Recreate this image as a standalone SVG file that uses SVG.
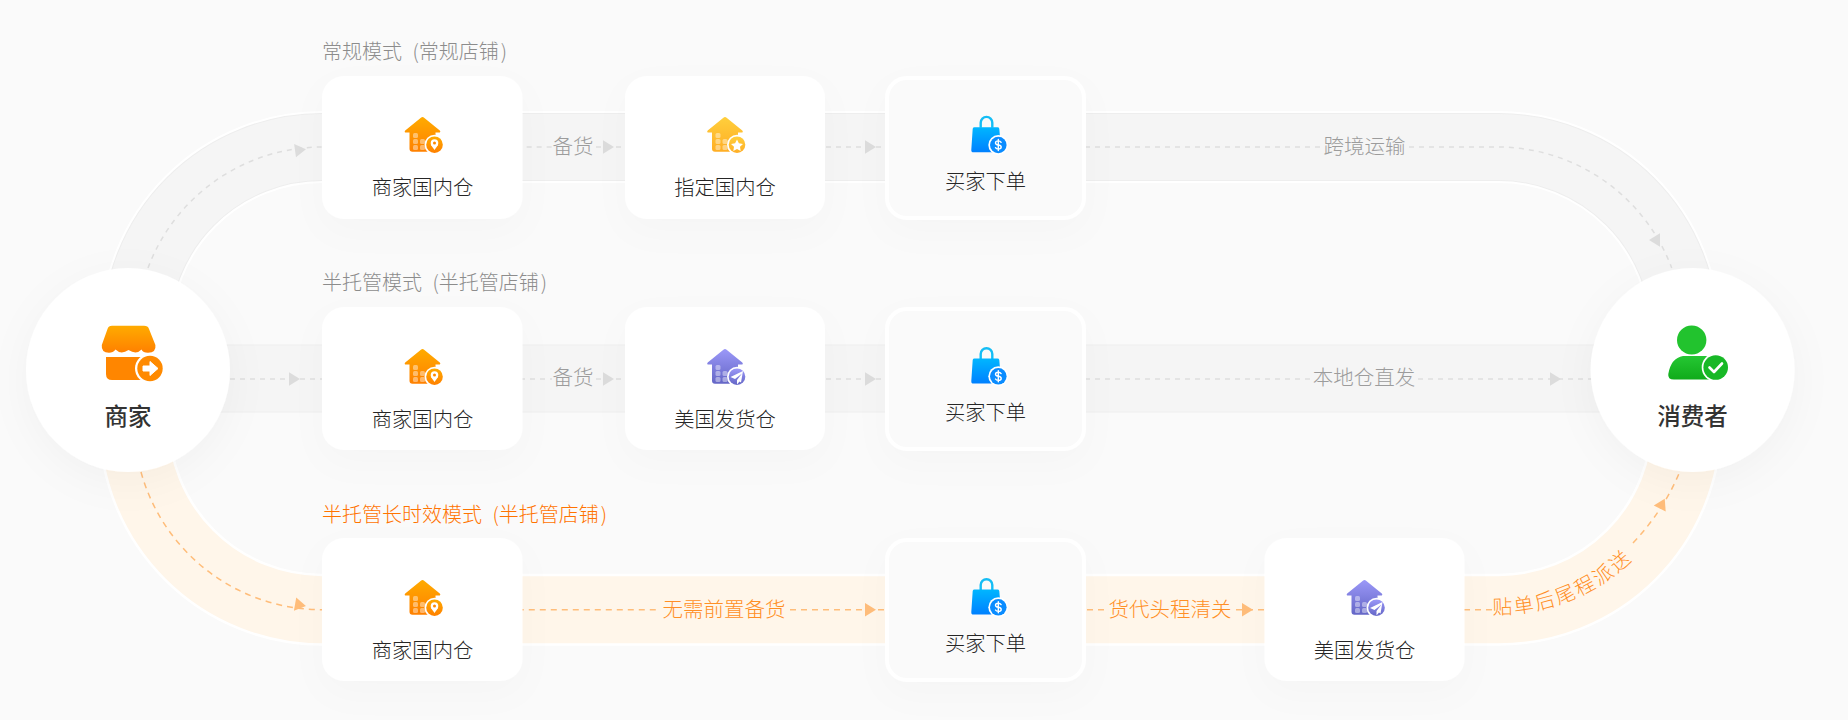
<svg xmlns="http://www.w3.org/2000/svg" width="1848" height="720" viewBox="0 0 1848 720">
<style>
text{font-family:"Noto Sans CJK SC","Noto Sans",sans-serif;font-weight:300;}
.lb{font-size:20.3px;fill:#262626;text-anchor:middle;}
.hd{font-size:20px;fill:#8c8c8c;word-spacing:6px;}
.ho{font-size:20px;fill:#ff7300;word-spacing:6px;}
.gt{font-size:20.5px;fill:#9c9c9c;text-anchor:middle;}
.ot{font-size:20.5px;fill:#ff8f26;text-anchor:middle;}
.big{font-size:23.5px;font-weight:500;fill:#333;text-anchor:middle;}
.b{fill:none;}
.gd{fill:none;stroke:#dedede;stroke-width:1.5;stroke-dasharray:5 5;}
.od{fill:none;stroke:#ffbd7a;stroke-width:1.5;stroke-dasharray:6 5;}
.card{fill:#fff;}
.cardc{fill:#fafafa;stroke:#fff;stroke-width:4;}
.win{fill:#fff;fill-opacity:.42;}
.wht{fill:#fff;}
.gtri{fill:#dcdcdc;}
.otri{fill:#ffbd7a;}
</style>
<defs>
<filter id="sh" x="-40%" y="-40%" width="180%" height="190%"><feDropShadow dx="0" dy="12" stdDeviation="18" flood-color="#000" flood-opacity=".02"/></filter>
<filter id="shc" x="-40%" y="-40%" width="180%" height="190%"><feDropShadow dx="0" dy="10" stdDeviation="20" flood-color="#000" flood-opacity=".035"/></filter>
<linearGradient id="gO" x1="0" y1="0" x2="0" y2="1"><stop offset="0" stop-color="#ffab00"/><stop offset="1" stop-color="#ff8000"/></linearGradient>
<linearGradient id="gY" x1="0" y1="0" x2="0" y2="1"><stop offset="0" stop-color="#ffcf3c"/><stop offset="1" stop-color="#ffae25"/></linearGradient>
<linearGradient id="gP" x1="0" y1="0" x2="0" y2="1"><stop offset="0" stop-color="#9b98f8"/><stop offset="1" stop-color="#6466c6"/></linearGradient>
<linearGradient id="gB" x1="0" y1="0" x2="0" y2="1"><stop offset="0" stop-color="#00b6ff"/><stop offset="1" stop-color="#0080ff"/></linearGradient>
<linearGradient id="gG" x1="0" y1="0" x2="0" y2="1"><stop offset="0" stop-color="#25c733"/><stop offset="1" stop-color="#10ab1a"/></linearGradient>
<path id="tri" d="M-5 -6.7 L6 0 L-5 6.7 Z"/>
<g id="house">
<path d="M-1.6 .7 Q0 -.5 1.6 .7 L17.3 13.4 Q18.8 15.4 16.2 15.4 H13 V31.8 Q13 34.8 10 34.8 H-10 Q-13 34.8 -13 31.8 V15.4 H-16.2 Q-18.8 15.4 -17.3 13.4 Z"/>
<rect class="win" x="-9.5" y="16" width="5" height="5" rx="1.5"/>
<rect class="win" x="-9.5" y="22" width="5" height="5" rx="1.5"/>
<rect class="win" x="-2.5" y="22" width="5" height="5" rx="1.5"/>
<rect class="win" x="-9.5" y="28" width="5" height="5" rx="1.5"/>
<rect class="win" x="-2.5" y="28" width="5" height="5" rx="1.5"/>
<circle class="wht" cx="12" cy="27.7" r="10"/>
<circle cx="12" cy="27.7" r="8.3"/>
</g>
<g id="bag">
<path d="M-4.8 11 V6 a5.8 5.8 0 0 1 11.6 0 V11" fill="none" stroke="#14bdf5" stroke-width="2.4"/>
<path d="M-11 10.6 H12 Q13.5 10.6 13.8 12 L15.5 32.5 Q15.7 35.6 12.5 35.6 H-12 Q-14.4 35.6 -14.2 33 L-12.8 12 Q-12.5 10.6 -11 10.6 Z" fill="url(#gB)"/>
<circle class="wht" cx="12.8" cy="28.3" r="10"/>
<circle cx="12.8" cy="28.3" r="8.3" fill="#0a8cff"/>
<path d="M15.6 25.6 Q14.8 24.2 12.8 24.2 Q10 24.2 10 26.3 Q10 28 12.8 28.3 Q15.7 28.7 15.7 30.4 Q15.7 32.4 12.8 32.4 Q10.8 32.4 10 31 M12.8 22.8 V33.8" fill="none" stroke="#fff" stroke-width="1.4" stroke-linecap="round"/>
</g>
</defs>
<rect width="1848" height="720" fill="#fafafa"/>
<g id="connectors">
<g id="bands">
<path class="b" d="M136 333 A186 186 0 0 1 322 147 H1498.6 A186 186 0 0 1 1684.6 333" stroke="#fff" stroke-width="72"/>
<path class="b" d="M136 333 A186 186 0 0 1 322 147 H1498.6 A186 186 0 0 1 1684.6 333" stroke="#eeeeee" stroke-width="68"/>
<path class="b" d="M136 333 A186 186 0 0 1 322 147 H1498.6 A186 186 0 0 1 1684.6 333" stroke="#f5f5f5" stroke-width="66"/>
<path class="b" d="M128 378.5 H1692" stroke="#eeeeee" stroke-width="68"/>
<path class="b" d="M128 378.5 H1692" stroke="#f5f5f5" stroke-width="66"/>
<path class="b" d="M134.3 422 A187.7 187.7 0 0 0 322 609.7 H1498.6 A187.7 187.7 0 0 0 1686.3 422" stroke="#fff" stroke-width="72"/>
<path class="b" d="M134.3 422 A187.7 187.7 0 0 0 322 609.7 H1498.6 A187.7 187.7 0 0 0 1686.3 422" stroke="#fff6ea" stroke-width="67"/>
</g>
<path class="gd" d="M148 268 A186 186 0 0 1 322 147 H552 M596 147 H885 M1085 147 H1320 M1409 147 H1498.6 A186 186 0 0 1 1671.7 268"/>
<path class="gd" d="M230 379 H552 M596 379 H885 M1085 379 H1310 M1418 379 H1592"/>
<path class="od" d="M141 472 A187.7 187.7 0 0 0 322 609.7 H658 M790 609.7 H1105 M1236 609.7 H1296"/>
<path class="od" d="M1464 609.7 H1493 M1633 543 Q1664 510 1679.6 472"/>
<use href="#tri" class="gtri" transform="translate(300 150) rotate(-8)"/>
<use href="#tri" class="gtri" transform="translate(608 147)"/>
<use href="#tri" class="gtri" transform="translate(870 147)"/>
<use href="#tri" class="gtri" transform="translate(1655 240) rotate(180)"/>
<use href="#tri" class="gtri" transform="translate(294 379)"/>
<use href="#tri" class="gtri" transform="translate(608 379)"/>
<use href="#tri" class="gtri" transform="translate(870 379)"/>
<use href="#tri" class="gtri" transform="translate(1555 379)"/>
<use href="#tri" class="otri" transform="translate(300 605) rotate(10)"/>
<use href="#tri" class="otri" transform="translate(870 609.7)"/>
<use href="#tri" class="otri" transform="translate(1247 609.7)"/>
<use href="#tri" class="otri" transform="translate(1662 504) rotate(-63)"/>
<text class="gt" x="573" y="154">备货</text>
<text class="gt" x="1364.5" y="154">跨境运输</text>
<text class="gt" x="573" y="385">备货</text>
<text class="gt" x="1364" y="385">本地仓直发</text>
<text class="ot" x="724" y="617">无需前置备货</text>
<text class="ot" x="1170" y="617">货代头程清关</text>
<path id="tp" d="M1492.6 613.9 A192 192 0 0 0 1664.9 518" fill="none"/>
<text class="ot" style="text-anchor:start;letter-spacing:2.2px;font-size:20px"><textPath href="#tp">贴单后尾程派送</textPath></text>
</g>
<g id="headings">
<text class="hd" x="322" y="59">常规模式 (常规店铺<tspan dx="2">)</tspan></text>
<text class="hd" x="322" y="290">半托管模式 (半托管店铺<tspan dx="2">)</tspan></text>
<text class="ho" x="322" y="522">半托管长时效模式 (半托管店铺<tspan dx="2">)</tspan></text>
</g>
<g id="merchant"><circle cx="128" cy="370" r="102" fill="#fff" filter="url(#shc)"/>
<path d="M106 357 H148 V372 Q148 380 140 380 H112 Q106 380 106 374 Z" fill="#ff8600"/>
<path d="M112 325.7 H144 Q148 325.7 149 329 L155.4 345 Q156.5 352.5 148 352.8 Q143 352.8 141.5 349.5 Q136.5 355 128.5 350 Q121 355 115.5 349.5 Q113 352.8 109 352.8 Q101 352.5 101.8 345 L107.5 329 Q108.5 325.7 112 325.7 Z" fill="url(#gO)"/>
<circle class="wht" cx="150" cy="368.5" r="15"/><circle cx="150" cy="368.5" r="12.7" fill="#ff8a00"/>
<path d="M143 366 H150 V361.5 L158 368.5 L150 375.5 V371 H143 Z" fill="#fff" stroke="#fff" stroke-width="1" stroke-linejoin="round"/>
<text class="big" x="128" y="425">商家</text></g>
<g id="consumer"><circle cx="1692.6" cy="370" r="102" fill="#fff" filter="url(#shc)"/>
<ellipse cx="1691.7" cy="340" rx="14.7" ry="14.5" fill="#22c32e"/>
<path d="M1683 356 H1706 Q1712 358 1712 379.5 H1675 Q1667.5 380 1668.3 374 Q1671 358 1683 356 Z" fill="url(#gG)"/>
<circle class="wht" cx="1715.7" cy="367.5" r="14"/><circle cx="1715.7" cy="367.5" r="12.3" fill="#18b826"/>
<path d="M1709.5 367.5 L1714 372 L1722 363.5" fill="none" stroke="#fff" stroke-width="2.6" stroke-linecap="round" stroke-linejoin="round"/>
<text class="big" x="1692.6" y="425">消费者</text></g>
<g id="r1-a"><rect class="card" x="322" y="76" width="200.5" height="143" rx="22" filter="url(#sh)"/>
<use href="#house" fill="url(#gO)" transform="translate(422.5 117)"/>
<circle class="wht" cx="434.5" cy="143" r="3.8"/><circle cx="434.5" cy="143" r="1.5" fill="#ff8a00"/><path d="M431 145 L434.5 150 L438 145 Z" fill="#fff"/>
<text class="lb" x="422.5" y="195">商家国内仓</text></g>
<g id="r1-b"><rect class="card" x="625" y="76" width="200" height="143" rx="22" filter="url(#sh)"/>
<use href="#house" fill="url(#gY)" transform="translate(725 117)"/>
<path d="M737 139.5 L738.9 143.3 L743 143.9 L740 146.8 L740.7 151 L737 149 L733.3 151 L734 146.8 L731 143.9 L735.1 143.3 Z" fill="#fff"/>
<text class="lb" x="725" y="195">指定国内仓</text></g>
<g id="r1-c"><rect class="cardc" x="887" y="78" width="197" height="140" rx="20" filter="url(#sh)"/>
<use href="#bag" transform="translate(985.5 116.7)"/>
<text class="lb" x="985.5" y="188.5">买家下单</text></g>
<g id="r2-a"><rect class="card" x="322" y="307" width="200.5" height="143" rx="22" filter="url(#sh)"/>
<use href="#house" fill="url(#gO)" transform="translate(422.5 349)"/>
<circle class="wht" cx="434.5" cy="375" r="3.8"/><circle cx="434.5" cy="375" r="1.5" fill="#ff8a00"/><path d="M431 377 L434.5 382 L438 377 Z" fill="#fff"/>
<text class="lb" x="422.5" y="426.5">商家国内仓</text></g>
<g id="r2-b"><rect class="card" x="625" y="307" width="200" height="143" rx="22" filter="url(#sh)"/>
<use href="#house" fill="url(#gP)" transform="translate(725 349)"/>
<path d="M743 371 L730.5 377 L735 379 L742 373.5 L737 380 L737 384.5 L739.5 381.5 L741 382.5 Z" fill="#fff"/>
<text class="lb" x="725" y="426.5">美国发货仓</text></g>
<g id="r2-c"><rect class="cardc" x="887" y="309" width="197" height="140" rx="20" filter="url(#sh)"/>
<use href="#bag" transform="translate(985.5 348)"/>
<text class="lb" x="985.5" y="419.5">买家下单</text></g>
<g id="r3-a"><rect class="card" x="322" y="538" width="200.5" height="143" rx="22" filter="url(#sh)"/>
<use href="#house" fill="url(#gO)" transform="translate(422.5 580)"/>
<circle class="wht" cx="434.5" cy="606" r="3.8"/><circle cx="434.5" cy="606" r="1.5" fill="#ff8a00"/><path d="M431 608 L434.5 613 L438 608 Z" fill="#fff"/>
<text class="lb" x="422.5" y="657.5">商家国内仓</text></g>
<g id="r3-c"><rect class="cardc" x="887" y="540" width="197" height="140" rx="20" filter="url(#sh)"/>
<use href="#bag" transform="translate(985.5 579)"/>
<text class="lb" x="985.5" y="650.5">买家下单</text></g>
<g id="r3-d"><rect class="card" x="1264.5" y="538" width="200" height="143" rx="22" filter="url(#sh)"/>
<use href="#house" fill="url(#gP)" transform="translate(1364.5 580)"/>
<path d="M1382.5 602 L1370 608 L1374.5 610 L1381.5 604.5 L1376.5 611 L1376.5 615.5 L1379 612.5 L1380.5 613.5 Z" fill="#fff"/>
<text class="lb" x="1364.5" y="657.5">美国发货仓</text></g>
</svg>
